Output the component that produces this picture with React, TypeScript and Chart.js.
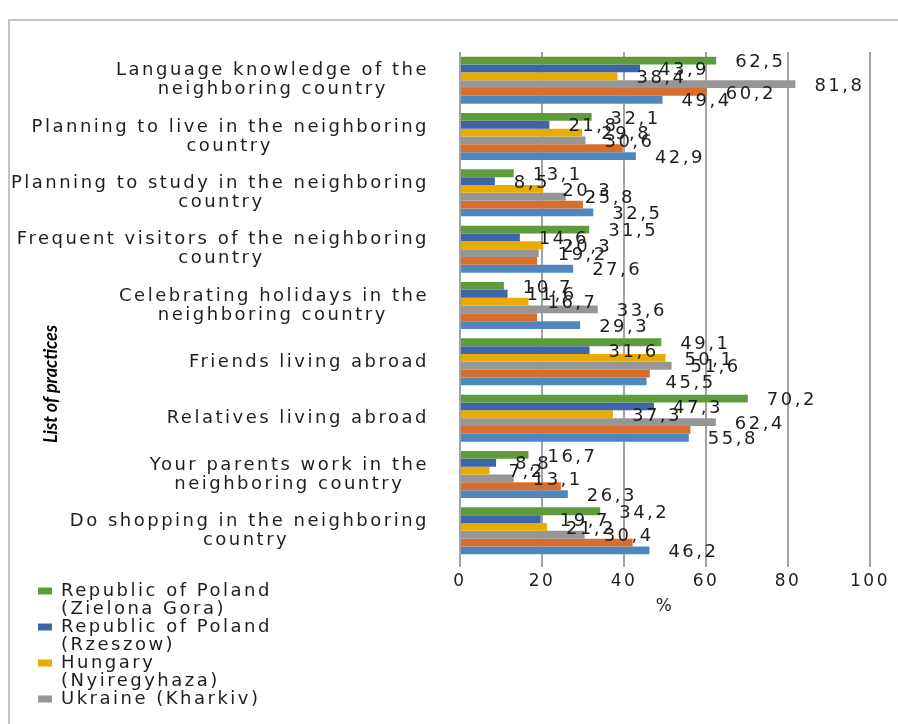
import React, { useEffect, useRef } from "react";
import { Chart, registerables } from "chart.js";

Chart.register(...registerables);

// ---------- data ----------
const categories: string[][] = [
  ["Language knowledge of the", "neighboring country"],
  ["Planning to live in the neighboring", "country"],
  ["Planning to study in the neighboring", "country"],
  ["Frequent visitors of the neighboring", "country"],
  ["Celebrating holidays in the", "neighboring country"],
  ["Friends living abroad"],
  ["Relatives living abroad"],
  ["Your parents work in the", "neighboring country"],
  ["Do shopping in the neighboring", "country"],
];

const seriesNames = [
  "Republic of Poland (Zielona Gora)",
  "Republic of Poland (Rzeszow)",
  "Hungary (Nyiregyhaza)",
  "Ukraine (Kharkiv)",
  "Series 5",
  "Series 6",
];

const legendLines: string[][] = [
  ["Republic of Poland", "(Zielona Gora)"],
  ["Republic of Poland", "(Rzeszow)"],
  ["Hungary", "(Nyiregyhaza)"],
  ["Ukraine (Kharkiv)"],
];

const zielonaGora = [62.5, 32.1, 13.1, 31.5, 10.7, 49.1, 70.2, 16.7, 34.2];
const rzeszow = [43.9, 21.8, 8.5, 14.6, 11.6, 31.6, 47.3, 8.8, 19.7];
const nyiregyhaza = [38.4, 29.8, 20.3, 20.3, 16.7, 50.1, 37.3, 7.2, 21.2];
const kharkiv = [81.8, 30.6, 25.8, 19.2, 33.6, 51.6, 62.4, 13.1, 30.4];
const series5 = [60.2, 39.7, 30.0, 18.8, 18.8, 46.3, 56.2, 24.6, 42.1];
const series6 = [49.4, 42.9, 32.5, 27.6, 29.3, 45.5, 55.8, 26.3, 46.2];
// which values carry a visible data label, per series
const labelShown: boolean[][] = [
  [true, true, true, true, true, true, true, true, true],
  [true, true, true, true, true, true, true, true, true],
  [true, true, true, true, true, true, true, true, true],
  [true, true, true, true, true, true, true, true, true],
  [true, false, false, false, false, false, false, false, false],
  [true, true, true, true, true, true, true, true, true],
];

const xTicks = [0, 20, 40, 60, 80, 100];
const xTitle = "%";
const yTitle = "List of practices";

const seriesColors = ["#5f9b3c", "#3e64ac", "#e8ac00", "#969696", "#d76e2d", "#4e87c0"];

// ---------- style ----------
const FONT = '"DejaVu Sans", sans-serif';
const FS = 18;
const LS = "2.5px";
const TEXT = "#1e1e1e";

function padLabel(lines: string[]): string[] {
  if (lines.length < 2) return lines;
  const c = document.createElement("canvas").getContext("2d") as any;
  c.font = `${FS}px ${FONT}`;
  c.letterSpacing = LS;
  const widths = lines.map((l) => c.measureText(l).width);
  const maxW = Math.max(...widths);
  const sp = c.measureText(" ").width;
  return lines.map(
    (l, i) => l + " ".repeat(Math.max(0, Math.round((maxW - widths[i]) / 2 / sp)))
  );
}

const fmt = (v: number) => v.toFixed(1).replace(".", ",");

const helperPlugin = {
  id: "helper",
  beforeUpdate(chart: any) {
    chart.ctx.letterSpacing = LS;
  },
  beforeDraw(chart: any) {
    const ctx = chart.ctx;
    ctx.letterSpacing = LS;
    // frame
    ctx.save();
    ctx.strokeStyle = "#c4c4c4";
    ctx.lineWidth = 2;
    ctx.strokeRect(9, 20, 1200, 1200);
    ctx.restore();
    // legend placement (bottom-left block)
    const lg = chart.legend;
    if (lg) {
      lg.left = 38;
      lg.top = 582;
      lg.right = 430;
      lg.bottom = 1400;
      lg.width = 392;
      lg.height = 818;
    }
  },
  afterDraw(chart: any) {
    const ctx = chart.ctx;
    // data labels
    ctx.save();
    ctx.letterSpacing = LS;
    ctx.font = `${FS}px ${FONT}`;
    ctx.fillStyle = TEXT;
    ctx.textAlign = "left";
    ctx.textBaseline = "middle";
    chart.data.datasets.forEach((ds: any, i: number) => {
      const meta = chart.getDatasetMeta(i);
      meta.data.forEach((bar: any, j: number) => {
        if (!labelShown[i][j]) return;
        ctx.fillText(fmt(ds.data[j]), bar.x + 19, bar.y + 2);
      });
    });
    ctx.restore();
    // rotated axis title
    ctx.save();
    ctx.letterSpacing = "0px";
    ctx.translate(51, 384);
    ctx.rotate(-Math.PI / 2);
    ctx.font = `italic bold 18px Lato, ${FONT}`;
    ctx.fillStyle = "#000";
    ctx.textAlign = "center";
    ctx.textBaseline = "middle";
    ctx.fillText(yTitle, 0, 0);
    ctx.restore();
    ctx.letterSpacing = LS;
  },
};

export default function App() {
  const ref = useRef<HTMLCanvasElement | null>(null);

  useEffect(() => {
    if (!ref.current) return;
    const series = [zielonaGora, rzeszow, nyiregyhaza, kharkiv, series5, series6];
    const chart = new Chart(ref.current, {
      type: "bar",
      data: {
        labels: categories.map(padLabel),
        datasets: series.map((d, i) => ({
          label: seriesNames[i],
          data: d,
          backgroundColor: seriesColors[i],
          borderWidth: 0,
          categoryPercentage: 0.835,
          barPercentage: 1,
        })),
      },
      options: {
        indexAxis: "y",
        responsive: false,
        maintainAspectRatio: false,
        animation: false,
        events: [],
        layout: { padding: { left: 0, top: 52, right: 28, bottom: 107 } },
        scales: {
          x: {
            type: "linear",
            min: 0,
            max: 100,
            afterBuildTicks: (s: any) => {
              s.ticks = xTicks.map((v) => ({ value: v }));
            },
            afterFit: (s: any) => {
              s.height = 58;
            },
            grid: {
              color: "#a3a3a3",
              lineWidth: 2,
              drawTicks: true,
              tickLength: 8,
            },
            border: { display: false },
            ticks: {
              color: TEXT,
              padding: 4,
              font: { family: FONT, size: 17, lineHeight: 1.2 },
            },
            title: {
              display: true,
              text: xTitle,
              color: TEXT,
              padding: { top: 0, bottom: 0 },
              font: { family: FONT, size: 17, lineHeight: 1.2 },
            },
          },
          y: {
            type: "category",
            afterFit: (s: any) => {
              s.width = 460;
            },
            grid: { display: false },
            border: { display: false },
            ticks: {
              autoSkip: false,
              color: TEXT,
              padding: 23,
              crossAlign: "near",
              font: { family: FONT, size: FS, lineHeight: 19 / FS },
            },
          },
        },
        plugins: {
          tooltip: { enabled: false },
          title: { display: false },
          legend: {
            display: true,
            position: "chartArea",
            align: "start",
            labels: {
              color: TEXT,
              boxWidth: 14,
              boxHeight: 7,
              padding: 0,
              font: { family: FONT, size: FS, lineHeight: 18 / FS },
              filter: (item: any) => item.datasetIndex < legendLines.length,
              generateLabels: (c: any) => {
                const items = (Chart.defaults.plugins.legend.labels as any).generateLabels(c);
                items.forEach((it: any, i: number) => {
                  if (legendLines[i]) it.text = legendLines[i];
                  it.lineWidth = 0;
                });
                return items;
              },
            },
          },
        },
      } as any,
      plugins: [helperPlugin as any],
    });
    return () => chart.destroy();
  }, []);

  return (
    <div
      style={{
        position: "fixed",
        left: 0,
        top: 0,
        width: 898,
        height: 724,
        background: "#fff",
        overflow: "hidden",
      }}
    >
      <canvas ref={ref} width={898} height={724} style={{ width: 898, height: 724, display: "block" }} />
    </div>
  );
}
